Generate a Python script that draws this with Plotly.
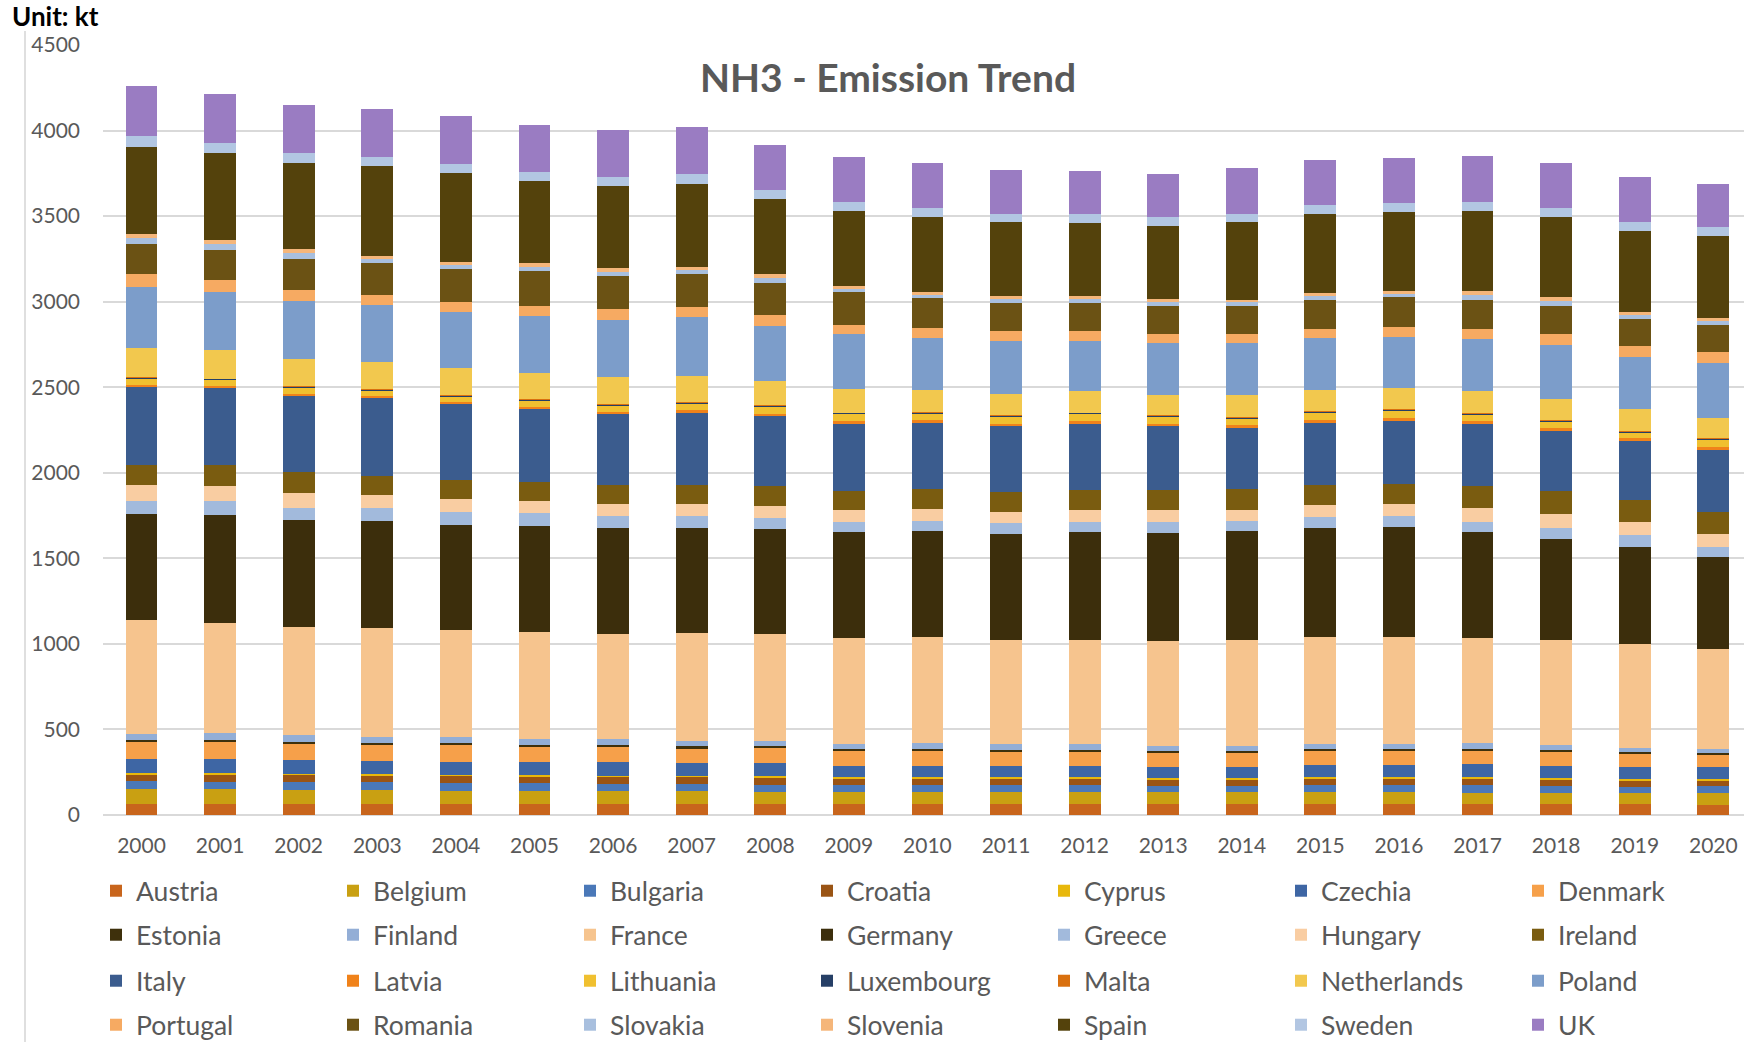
import plotly.graph_objects as go

# ---- data (kt) ----
years = [str(y) for y in range(2000, 2021)]

austria = [65, 65, 64, 64, 63, 63, 64, 64, 62, 63, 62, 62, 62, 62, 62, 63, 63, 64, 65, 64, 60]
belgium = [88, 87, 84, 82, 79, 77, 76, 76, 70, 73, 74, 74, 74, 70, 70, 73, 69, 66, 65, 64, 68]
bulgaria = [44, 43, 43, 45, 45, 45, 41, 41, 45, 39, 39, 39, 39, 40, 40, 39, 43, 44, 42, 38, 39]
croatia = [39, 42, 43, 39, 41, 41, 42, 43, 43, 39, 39, 39, 39, 36, 36, 39, 41, 40, 36, 38, 37]
cyprus = [8, 7, 7, 7, 7, 6, 6, 5, 6, 6, 6, 6, 6, 6, 6, 6, 6, 6, 6, 6, 6]
czechia = [86, 84, 80, 79, 77, 79, 78, 75, 78, 68, 68, 68, 68, 66, 66, 74, 72, 76, 74, 68, 68]
denmark = [99, 101, 97, 98, 98, 90, 91, 87, 85, 86, 86, 84, 82, 84, 84, 80, 80, 80, 81, 78, 74]
estonia = [12, 12, 10, 9, 10, 10, 11, 10, 12, 12, 12, 10, 12, 10, 10, 12, 12, 10, 11, 12, 10]
finland = [35, 37, 37, 30, 34, 33, 35, 33, 33, 29, 34, 33, 33, 31, 31, 29, 29, 32, 30, 25, 26]
france = [662, 646, 633, 641, 626, 626, 611, 628, 626, 617, 620, 610, 610, 613, 620, 625, 627, 617, 612, 605, 581]
germany = [624, 632, 626, 625, 615, 620, 620, 616, 610, 620, 620, 620, 630, 632, 635, 640, 643, 621, 592, 568, 538]
greece = [75, 77, 72, 75, 75, 75, 70, 67, 65, 63, 60, 60, 60, 65, 60, 60, 60, 58, 65, 72, 59]
hungary = [92, 90, 86, 75, 75, 70, 70, 70, 70, 65, 70, 65, 65, 65, 65, 70, 70, 80, 78, 74, 78]
ireland = [119, 121, 120, 115, 115, 110, 115, 115, 120, 115, 115, 115, 120, 120, 120, 120, 120, 126, 135, 128, 127]
italy = [451, 451, 445, 453, 443, 426, 412, 420, 406, 393, 387, 387, 388, 372, 359, 362, 366, 363, 351, 347, 365]
latvia = [14, 13, 13, 13, 13, 14, 15, 15, 15, 15, 16, 16, 16, 16, 16, 17, 18, 17, 17, 16, 17]
lithuania = [37, 35, 37, 32, 32, 40, 39, 39, 42, 42, 39, 42, 41, 40, 40, 44, 46, 40, 39, 35, 42]
luxembourg = [5.9, 5.9, 5.8, 5.8, 5.7, 5.6, 5.6, 5.5, 5.5, 5.4, 5.4, 5.4, 5.4, 5.5, 5.6, 5.7, 5.8, 5.9, 6.0, 6.0, 6.1]
malta = [1.8, 1.8, 1.8, 1.7, 1.7, 1.7, 1.6, 1.6, 1.5, 1.5, 1.5, 1.5, 1.4, 1.4, 1.4, 1.4, 1.4, 1.4, 1.4, 1.4, 1.3]
netherlands = [171, 164, 162, 157, 155, 149, 154, 154, 140, 135, 127, 125, 125, 118, 126, 122, 126, 132, 124, 125, 116]
poland = [357, 340, 337, 332, 329, 333, 337, 344, 325, 322, 308, 307, 293, 307, 307, 303, 297, 305, 318, 304, 321]
portugal = [74, 74, 64, 60, 60, 60, 65, 60, 60, 55, 60, 60, 60, 50, 50, 55, 55, 58, 62, 68, 68]
romania = [179, 175, 183, 185, 190, 205, 190, 190, 190, 190, 170, 165, 165, 165, 165, 170, 175, 165, 162, 156, 158]
slovakia = [33, 35, 36, 26, 26, 26, 26, 26, 30, 23, 23, 23, 23, 22, 21, 22, 22, 30, 29, 25, 21]
slovenia = [22, 22, 22, 19, 19, 19, 19, 19, 20, 17, 17, 17, 17, 16, 16, 16, 16, 23, 23, 19, 21]
spain = [513, 510, 502, 523, 515, 480, 480, 485, 440, 435, 435, 430, 425, 432, 453, 462, 462, 470, 472, 471, 476]
sweden = [61, 58, 59, 56, 55, 55, 55, 55, 50, 55, 55, 50, 50, 50, 50, 55, 50, 51, 53, 54, 53]
uk = [292, 286, 282, 279, 279, 272, 276, 274, 266, 259, 262, 258, 256, 252, 264, 260, 263, 272, 260, 260, 254]

series = [
    ("Austria", austria, "#C8651C"),
    ("Belgium", belgium, "#C9A012"),
    ("Bulgaria", bulgaria, "#4A78B8"),
    ("Croatia", croatia, "#9A5414"),
    ("Cyprus", cyprus, "#E8B80C"),
    ("Czechia", czechia, "#3E66A4"),
    ("Denmark", denmark, "#F6A04A"),
    ("Estonia", estonia, "#3E300C"),
    ("Finland", finland, "#93AED6"),
    ("France", france, "#F6C48E"),
    ("Germany", germany, "#3C2E0C"),
    ("Greece", greece, "#A2BADC"),
    ("Hungary", hungary, "#F9CDA2"),
    ("Ireland", ireland, "#7A5C10"),
    ("Italy", italy, "#3B5C8E"),
    ("Latvia", latvia, "#F0821A"),
    ("Lithuania", lithuania, "#F0C030"),
    ("Luxembourg", luxembourg, "#263F66"),
    ("Malta", malta, "#D9700F"),
    ("Netherlands", netherlands, "#F2C84E"),
    ("Poland", poland, "#7C9DCA"),
    ("Portugal", portugal, "#F6AA62"),
    ("Romania", romania, "#6B5214"),
    ("Slovakia", slovakia, "#A8BFDE"),
    ("Slovenia", slovenia, "#F5B67A"),
    ("Spain", spain, "#54420C"),
    ("Sweden", sweden, "#B2C6E2"),
    ("UK", uk, "#9A7CC2"),
]

FONT = "Lato"
GREY = "#595959"
W, H = 1744, 1042
ML, MT, MB = 103, 45, 227
PW, PH = W - ML, H - MT - MB

legend_ids = ["legend", "legend2", "legend3", "legend4"]

fig = go.Figure()
for i, (name, vals, color) in enumerate(series):
    fig.add_trace(go.Bar(
        x=years, y=vals, name=name,
        marker=dict(color=color, line=dict(width=0)),
        legend=legend_ids[i // 7],
    ))


def px_x(px):
    return (px - ML) / PW


def px_y(py):
    return (MT + PH - py) / PH


layout_legends = {}
for k, lid in enumerate(legend_ids):
    row_center = [891, 935, 981, 1025][k]
    layout_legends[lid] = dict(
        orientation="h",
        xref="paper", yref="paper",
        x=px_x(96), xanchor="left",
        y=px_y(row_center), yanchor="middle",
        entrywidth=192, entrywidthmode="pixels",
        font=dict(family=FONT, size=26.5, color=GREY),
        bgcolor="rgba(0,0,0,0)",
        borderwidth=0,
        traceorder="normal",
    )

fig.update_layout(
    width=W, height=H,
    margin=dict(l=ML, r=0, t=MT, b=MB, autoexpand=False),
    paper_bgcolor="white",
    plot_bgcolor="white",
    barmode="stack",
    bargap=0.595,
    showlegend=True,
    title=dict(
        text="NH3 - Emission Trend",
        font=dict(family=FONT, size=39, color=GREY, weight="bold"),
        xref="paper", x=px_x(888), xanchor="center",
        yref="container", y=1 - 78 / H, yanchor="middle",
    ),
    xaxis=dict(
        type="category",
        range=[-0.49, 20.39],
        showgrid=False,
        showline=False,
        zeroline=False,
        ticks="",
        tickfont=dict(family=FONT, size=21, color=GREY),
        ticklabelstandoff=16,
    ),
    yaxis=dict(
        range=[0, 4500],
        tick0=0, dtick=500,
        showgrid=True,
        gridcolor="#D9D9D9",
        gridwidth=1.5,
        zeroline=True,
        zerolinecolor="#D9D9D9",
        zerolinewidth=1.5,
        showline=False,
        ticks="",
        tickfont=dict(family=FONT, size=21, color=GREY),
        ticklabelstandoff=22,
    ),
    **layout_legends,
)

# unit label in the top-left corner
fig.add_annotation(
    text="<b>Unit: kt</b>",
    xref="paper", yref="paper",
    x=px_x(11), y=px_y(16),
    xanchor="left", yanchor="middle",
    showarrow=False,
    borderpad=0,
    font=dict(family=FONT, size=26, color="black"),
)

# thin frame line along the left side of the chart area
fig.add_shape(
    type="line",
    xref="paper", yref="paper",
    x0=px_x(25), x1=px_x(25),
    y0=px_y(31), y1=px_y(H),
    line=dict(color="#BFBFBF", width=1),
)

fig.write_html("out.html")
